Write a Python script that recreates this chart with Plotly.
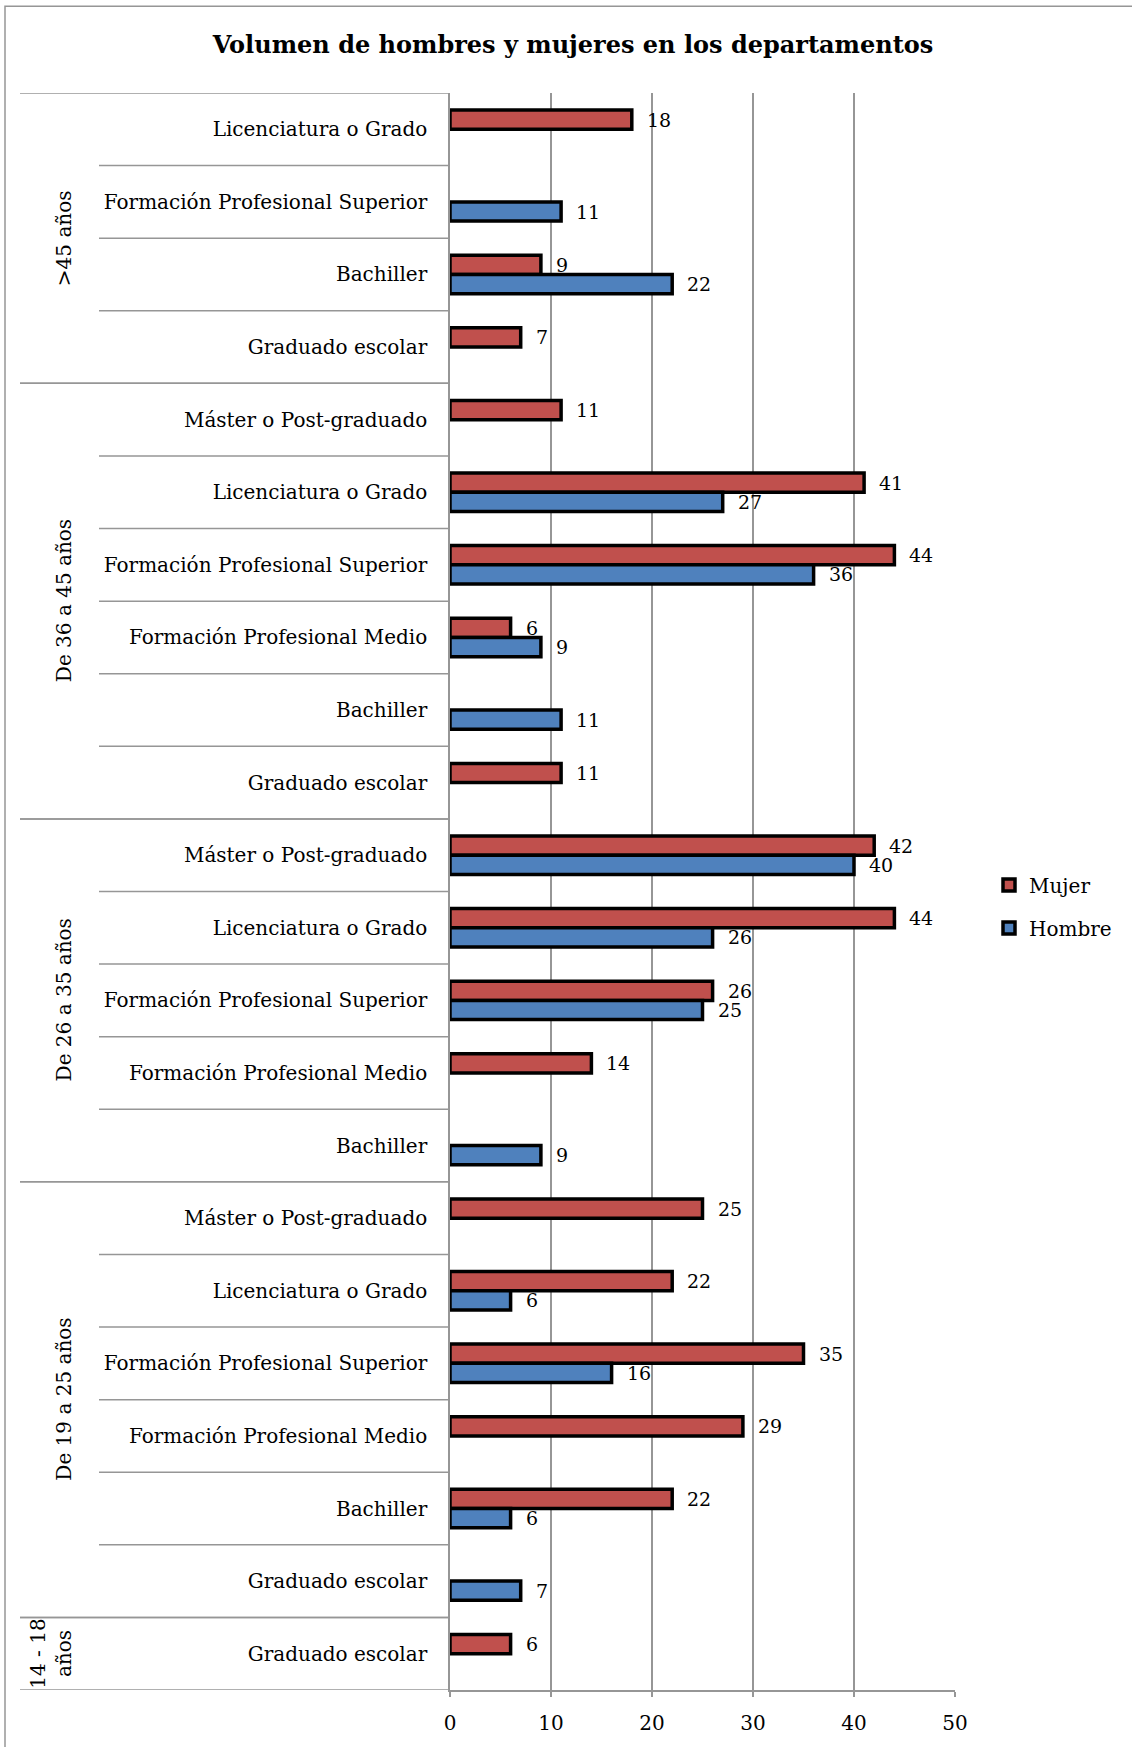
import plotly.graph_objects as go

# ---- data (rows listed bottom -> top) ----
group_names = ["14 - 18<br>años", "De 19 a 25 años", "De 26 a 35 años", "De 36 a 45 años", ">45 años"]
group_levels = [
    ["Graduado escolar"],
    ["Graduado escolar", "Bachiller", "Formación Profesional Medio", "Formación Profesional Superior",
     "Licenciatura o Grado", "Máster o Post-graduado"],
    ["Bachiller", "Formación Profesional Medio", "Formación Profesional Superior",
     "Licenciatura o Grado", "Máster o Post-graduado"],
    ["Graduado escolar", "Bachiller", "Formación Profesional Medio", "Formación Profesional Superior",
     "Licenciatura o Grado", "Máster o Post-graduado"],
    ["Graduado escolar", "Bachiller", "Formación Profesional Superior", "Licenciatura o Grado"],
]
mujer = [6, None, 22, 29, 35, 22, 25, None, 14, 26, 44, 42, 11, None, 6, 44, 41, 11, 7, 9, None, 18]
hombre = [None, 7, 6, None, 16, 6, None, 9, None, 25, 26, 40, None, 11, 9, 36, 27, None, None, 22, 11, None]
x_ticks = [0, 10, 20, 30, 40, 50]

labels = [lvl for g in group_levels for lvl in g]
pos = list(range(len(labels)))

FONT = "DejaVu Serif"
RED = "#C0504D"
BLUE = "#4F81BD"
GRID = "#969696"
BW = 0.265

fig = go.Figure()
fig.add_trace(go.Bar(name="Mujer", y=pos, x=mujer, orientation="h", width=BW, offset=0,
                     marker=dict(color=RED, line=dict(color="black", width=3.5)),
                     legendgroup="m"))
fig.add_trace(go.Bar(name="Hombre", y=pos, x=hombre, orientation="h", width=BW, offset=-BW,
                     marker=dict(color=BLUE, line=dict(color="black", width=3.5)),
                     legendgroup="h"))

ann = []
for p, v in zip(pos, mujer):
    if v is not None:
        ann.append(dict(x=v, y=p + BW / 2, xref="x", yref="y", text=str(v), showarrow=False,
                        xanchor="left", yanchor="middle", xshift=13,
                        font=dict(family=FONT, size=19, color="black")))
for p, v in zip(pos, hombre):
    if v is not None:
        ann.append(dict(x=v, y=p - BW / 2, xref="x", yref="y", text=str(v), showarrow=False,
                        xanchor="left", yanchor="middle", xshift=13,
                        font=dict(family=FONT, size=19, color="black")))

# geometry in pixels (for paper coordinates)
PL, PR, PT, PB = 450, 955, 93, 1693
def px2paper(px):
    return (px - PL) / (PR - PL)
def py2paper(py):
    return (PB - py) / (PB - PT)

shapes = []
start = 0
for gi, (gname, g) in enumerate(zip(group_names, group_levels)):
    n = len(g)
    center = start + (n - 1) / 2
    gx = 51 if gi == 0 else 64
    ann.append(dict(x=px2paper(gx), y=center, xref="paper", yref="y", text=gname, showarrow=False,
                    textangle=-90, xanchor="center", yanchor="middle",
                    font=dict(family=FONT, size=20, color="black")))
    # group boundary lines
    for b in [start - 0.5, start + n - 0.5]:
        shapes.append(dict(type="line", xref="paper", yref="y", x0=px2paper(20), x1=0, y0=b, y1=b,
                           line=dict(color=GRID, width=1.5)))
    for k in range(1, n):
        b = start + k - 0.5
        shapes.append(dict(type="line", xref="paper", yref="y", x0=px2paper(99), x1=0, y0=b, y1=b,
                           line=dict(color=GRID, width=1.5)))
    start += n

# outer frame (top and left visible)
shapes.append(dict(type="rect", xref="paper", yref="paper", x0=px2paper(5), x1=px2paper(1200),
                   y0=py2paper(1800), y1=py2paper(6), line=dict(color=GRID, width=1.5),
                   fillcolor="rgba(0,0,0,0)", layer="below"))

fig.update_layout(
    width=1132, height=1747,
    margin=dict(l=PL, r=1132 - PR, t=PT, b=1747 - PB),
    paper_bgcolor="white", plot_bgcolor="white",
    title=dict(text="<b>Volumen de hombres y mujeres en los departamentos</b>",
               x=573 / 1132, xanchor="center", y=1 - 45 / 1747, yanchor="middle",
               font=dict(family=FONT, size=24, color="black")),
    barmode="overlay",
    showlegend=True,
    legend=dict(x=px2paper(989), y=py2paper(908), xanchor="left", yanchor="middle",
                traceorder="grouped", tracegroupgap=14,
                font=dict(family=FONT, size=20, color="black"), itemwidth=30),
    xaxis=dict(range=[0, 50], tickvals=x_ticks, showgrid=True, gridcolor=GRID, gridwidth=1.5,
               showline=True, linecolor=GRID, linewidth=1.5, ticks="outside", ticklen=5,
               tickcolor=GRID, tickwidth=1.5, ticklabelstandoff=9, zeroline=False,
               tickfont=dict(family=FONT, size=20, color="black"), fixedrange=True),
    yaxis=dict(range=[-0.5, len(labels) - 0.5], tickvals=pos, ticktext=labels, showgrid=False,
               showline=True, linecolor=GRID, linewidth=1.5, ticks="", ticklabelstandoff=17,
               zeroline=False, tickfont=dict(family=FONT, size=20, color="black"), fixedrange=True),
    annotations=ann,
    shapes=shapes,
)

fig.write_html("out.html")
